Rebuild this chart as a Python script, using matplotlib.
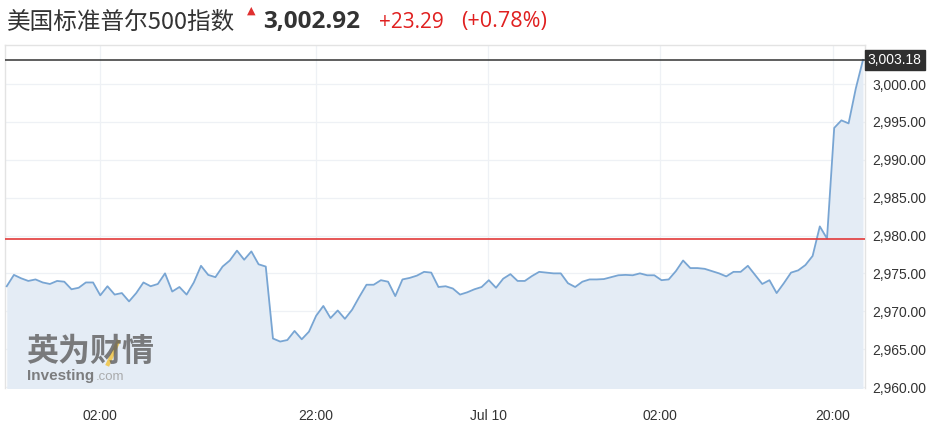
import matplotlib
matplotlib.use("Agg")
import matplotlib.pyplot as plt
import matplotlib.transforms as mtrans
from matplotlib.lines import Line2D
import numpy as np

# ---- data ----
values = [
    2973.3, 2974.8, 2974.35, 2974.0, 2974.2, 2973.8, 2973.6, 2974.0, 2973.9, 2972.9,
    2973.1, 2973.8, 2973.8, 2972.1, 2973.3, 2972.2, 2972.4, 2971.3, 2972.4, 2973.8,
    2973.3, 2973.6, 2975.0, 2972.6, 2973.2, 2972.2, 2973.8, 2976.0, 2974.8, 2974.5,
    2975.9, 2976.7, 2978.0, 2976.8, 2977.9, 2976.2, 2975.9, 2966.4, 2966.0, 2966.2,
    2967.4, 2966.3, 2967.3, 2969.4, 2970.7, 2969.1, 2970.1, 2969.0, 2970.2, 2971.9,
    2973.5, 2973.5, 2974.1, 2973.9, 2972.0, 2974.2, 2974.4, 2974.7, 2975.2, 2975.1,
    2973.2, 2973.3, 2973.0, 2972.2, 2972.5, 2972.9, 2973.2, 2974.1, 2973.1, 2974.3,
    2974.9, 2974.0, 2974.0, 2974.65, 2975.2, 2975.1, 2975.0, 2975.0, 2973.7, 2973.2,
    2973.9, 2974.2, 2974.2, 2974.25, 2974.5, 2974.75, 2974.8, 2974.75, 2975.0, 2974.75,
    2974.75, 2974.1, 2974.2, 2975.3, 2976.7, 2975.7, 2975.7, 2975.6, 2975.3, 2975.0,
    2974.6, 2975.2, 2975.2, 2976.0, 2974.8, 2973.6, 2974.1, 2972.4, 2973.7, 2975.1,
    2975.4, 2976.1, 2977.3, 2981.2, 2979.6, 2994.2, 2995.2, 2994.8, 2999.4, 3003.18,
]
prev_close = 2979.6
last_price = 3003.18
x_tick_pos = [13.0, 43.0, 66.9, 90.8, 114.8]
x_tick_labels = ["02:00", "22:00", "Jul 10", "02:00", "20:00"]
y_ticks = [2960, 2965, 2970, 2975, 2980, 2985, 2990, 2995, 3000]

title_name = "美国标准普尔500指数"
title_price = "3,002.92"
title_change = "+23.29"
title_pct = "(+0.78%)"

# ---- figure ----
W, H = 946, 436
fig = plt.figure(figsize=(W / 100, H / 100), dpi=100)
fig.patch.set_facecolor("white")

left_px, right_px, top_px, bot_px = 5, 865, 45, 388
ax = fig.add_axes([left_px / W, 1 - bot_px / H, (right_px - left_px) / W, (bot_px - top_px) / H])

x = np.arange(len(values))
ax.fill_between(x, values, 2950, color="#e4ecf5", lw=0, zorder=1)
ax.plot(x, values, color="#78a5d3", lw=1.3, zorder=3)

ax.axhline(prev_close, color="#e23a3a", lw=1.2, zorder=4)
ax.axhline(last_price, color="#333333", lw=1.1, zorder=4)

ppu = 7.575
ax.set_ylim(2960 - 1 / ppu, 2960 + (387 - top_px) / ppu)
ax.set_xlim(-0.24, len(values) - 1 + 0.28)

ax.set_yticks(y_ticks)
ax.set_yticklabels([f"{v:,.2f}" for v in y_ticks])
ax.yaxis.tick_right()
ax.set_xticks(x_tick_pos)
ax.set_xticklabels(x_tick_labels)
ax.tick_params(axis="both", length=0, labelsize=10, colors="#333333")
ax.tick_params(axis="y", pad=5)
ax.tick_params(axis="x", pad=15)
for lab in ax.get_xticklabels() + ax.get_yticklabels():
    lab.set_fontfamily("Liberation Sans")
for lab in ax.get_yticklabels():
    lab.set_horizontalalignment("left")

ax.grid(True, color="#eef1f5", lw=0.9, zorder=0)
ax.set_axisbelow(True)
for s in ax.spines.values():
    s.set_color("#e3e3e3")
    s.set_linewidth(1.0)
ax.spines["bottom"].set_visible(False)

# last price label box
trans = mtrans.blended_transform_factory(ax.transAxes, ax.transData)
ax.text(1.003, last_price, f"{last_price:,.2f}", transform=trans, ha="left", va="center",
        fontsize=10, color="white", family="Liberation Sans", zorder=6,
        bbox=dict(boxstyle="square,pad=0.22", fc="#2f2f2f", ec="#2f2f2f"), clip_on=False)

# watermark
fig.text(26 / W, 1 - 352 / H, "英为财情", fontsize=23, fontweight="bold", color="#5e5e5e",
         family="Noto Sans CJK SC", va="center", ha="left", alpha=0.8)
fig.add_artist(Line2D([108 / W, 118 / W], [1 - 364 / H, 1 - 342 / H], color="#f2c542",
                      lw=3.0, alpha=0.85, transform=fig.transFigure))
fig.text(27 / W, 1 - 376 / H, "Investing", fontsize=11, fontweight="bold", color="#6a6a6a",
         family="Liberation Sans", va="center", ha="left", alpha=0.85)
fig.text(96 / W, 1 - 377 / H, ".com", fontsize=9.5, color="#a0a0a0",
         family="Liberation Sans", va="center", ha="left", alpha=0.85)

# title
ty = 1 - 22 / H
fig.text(7 / W, ty, title_name, fontsize=17, color="#333333", family="Noto Sans CJK SC",
         va="center", ha="left")
fig.text(251 / W, 1 - 11 / H, "▲", fontsize=8, color="#e03030", family="DejaVu Sans",
         va="center", ha="center")
fig.text(263 / W, ty, title_price, fontsize=17.5, fontweight="bold", color="#333333",
         family="Open Sans", va="center", ha="left")
fig.text(379 / W, ty, title_change, fontsize=15, color="#e02020", family="Open Sans",
         va="center", ha="left")
fig.text(461 / W, ty, title_pct, fontsize=15.5, color="#e02020", family="Open Sans",
         va="center", ha="left")

fig.savefig("out.png", dpi=100, facecolor="white")
